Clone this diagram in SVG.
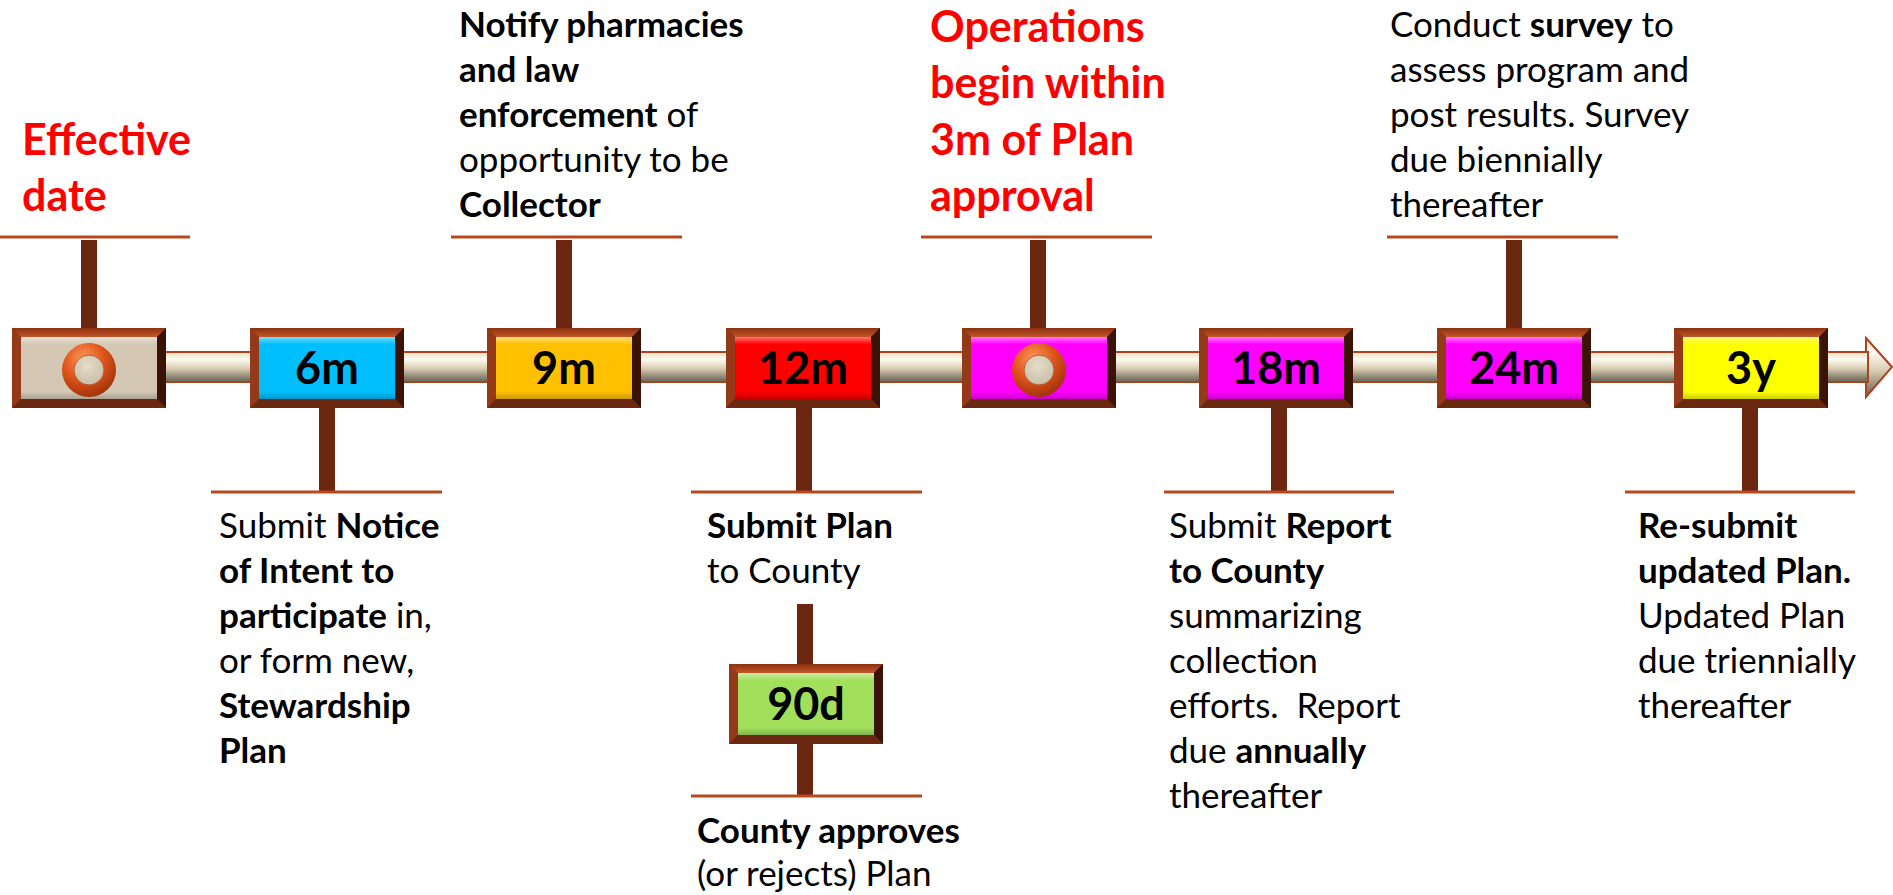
<svg xmlns="http://www.w3.org/2000/svg" xmlns:xlink="http://www.w3.org/1999/xlink" width="1893" height="895" viewBox="0 0 1893 895">
<style>
.t{font-family:Lato,"Noto Sans",sans-serif;font-size:35px;fill:#000}
.b{font-weight:bold}
.red{font-family:Lato,"Noto Sans",sans-serif;font-size:43px;font-weight:bold;fill:#ff0000}
.num{font-family:Lato,"Noto Sans",sans-serif;font-size:45px;font-weight:bold;fill:#000;text-anchor:middle}
.stem{fill:#6b2710}
.rule{stroke:#b9481f;stroke-width:3}
</style>
<defs>
<linearGradient id="bar" x1="0" y1="0" x2="0" y2="1">
<stop offset="0" stop-color="#e8dcc4"/>
<stop offset="0.25" stop-color="#fffbef"/>
<stop offset="0.55" stop-color="#d9ccb2"/>
<stop offset="0.85" stop-color="#8a8272"/>
<stop offset="1" stop-color="#6a6454"/>
</linearGradient>
<linearGradient id="ftop" x1="0" y1="0" x2="0" y2="1">
<stop offset="0" stop-color="#8c3010"/>
<stop offset="1" stop-color="#c2582a"/>
</linearGradient>
<linearGradient id="hl" x1="0" y1="0" x2="0" y2="1">
<stop offset="0" stop-color="#fff" stop-opacity="0.45"/>
<stop offset="0.12" stop-color="#fff" stop-opacity="0"/>
<stop offset="0.88" stop-color="#000" stop-opacity="0"/>
<stop offset="1" stop-color="#000" stop-opacity="0.2"/>
</linearGradient>
<radialGradient id="ring" cx="0.4" cy="0.3" r="0.75">
<stop offset="0" stop-color="#ff9a5a"/>
<stop offset="0.5" stop-color="#e0541c"/>
<stop offset="1" stop-color="#9a3008"/>
</radialGradient>
<radialGradient id="disc" cx="0.45" cy="0.35" r="0.7">
<stop offset="0" stop-color="#e6dcc8"/>
<stop offset="1" stop-color="#c8bca6"/>
</radialGradient>
<g id="frame">
<rect x="0" y="0" width="154" height="80" fill="#7a2c12"/>
<polygon points="0,0 154,0 145,9 9,9" fill="url(#ftop)"/>
<polygon points="0,0 9,9 9,71 0,80" fill="#953a18"/>
<polygon points="154,0 154,80 145,71 145,9" fill="#3a1206"/>
<polygon points="0,80 154,80 145,71 9,71" fill="#6a2810"/>
</g>
<g id="face"><rect x="9" y="9" width="136" height="62" fill="url(#hl)"/></g>
<g id="orn">
<circle r="27" fill="url(#ring)"/>
<circle r="15" fill="url(#disc)" stroke="#b85a30" stroke-width="1"/>
</g>
</defs>
<rect width="1893" height="895" fill="#fff"/>

<g id="connectors">
<rect x="160" y="352" width="1710" height="30" fill="url(#bar)" stroke="#a84420" stroke-width="2"/>
<polygon points="1866,338 1892,367 1866,397 1866,382 1868,382 1868,352 1866,352" fill="url(#bar)" stroke="#a84420" stroke-width="2"/>
<rect class="stem" x="81" y="240" width="16" height="88"/>
<line class="rule" x1="0" y1="237" x2="190" y2="237"/>
<rect class="stem" x="556" y="240" width="16" height="88"/>
<line class="rule" x1="451" y1="237" x2="682" y2="237"/>
<rect class="stem" x="1030" y="240" width="16" height="88"/>
<line class="rule" x1="921" y1="237" x2="1152" y2="237"/>
<rect class="stem" x="1506" y="240" width="16" height="88"/>
<line class="rule" x1="1387" y1="237" x2="1618" y2="237"/>
<rect class="stem" x="319" y="408" width="16" height="84"/>
<line class="rule" x1="211" y1="492" x2="442" y2="492"/>
<rect class="stem" x="796" y="408" width="16" height="84"/>
<line class="rule" x1="691" y1="492" x2="922" y2="492"/>
<rect class="stem" x="797" y="604" width="16" height="60"/>
<rect class="stem" x="797" y="744" width="16" height="52"/>
<line class="rule" x1="691" y1="796" x2="922" y2="796"/>
<rect class="stem" x="1271" y="408" width="16" height="84"/>
<line class="rule" x1="1164" y1="492" x2="1394" y2="492"/>
<rect class="stem" x="1742" y="408" width="16" height="84"/>
<line class="rule" x1="1625" y1="492" x2="1855" y2="492"/>
</g>

<g id="n0">
<use href="#frame" x="12" y="328"/>
<rect x="21" y="337" width="136" height="62" fill="#d4c8b4"/>
<use href="#face" x="12" y="328"/>
<use href="#orn" x="89" y="370"/>
<text class="red" x="22" y="155">Effective</text>
<text class="red" x="22" y="211">date</text>
</g>

<g id="n1">
<use href="#frame" x="250" y="328"/>
<rect x="259" y="337" width="136" height="62" fill="#00bfff"/>
<use href="#face" x="250" y="328"/>
<text class="num" x="327" y="384">6m</text>
<text class="t" x="219" y="538">Submit <tspan class="b">Notice</tspan></text>
<text class="t b" x="219" y="583">of Intent to</text>
<text class="t" x="219" y="628"><tspan class="b">participate</tspan> in,</text>
<text class="t" x="219" y="673">or form new,</text>
<text class="t b" x="219" y="718">Stewardship</text>
<text class="t b" x="219" y="763">Plan</text>
</g>

<g id="n2">
<use href="#frame" x="487" y="328"/>
<rect x="496" y="337" width="136" height="62" fill="#ffc000"/>
<use href="#face" x="487" y="328"/>
<text class="num" x="564" y="384">9m</text>
<text class="t b" x="459" y="37">Notify pharmacies</text>
<text class="t b" x="459" y="82">and law</text>
<text class="t" x="459" y="127"><tspan class="b">enforcement</tspan> of</text>
<text class="t" x="459" y="172">opportunity to be</text>
<text class="t b" x="459" y="217">Collector</text>
</g>

<g id="n3">
<use href="#frame" x="726" y="328"/>
<rect x="735" y="337" width="136" height="62" fill="#ff0000"/>
<use href="#face" x="726" y="328"/>
<text class="num" x="803" y="384">12m</text>
<text class="t b" x="707" y="538">Submit Plan</text>
<text class="t" x="707" y="583">to County</text>
</g>

<g id="n3b">
<use href="#frame" x="729" y="664"/>
<rect x="738" y="673" width="136" height="62" fill="#a2e05c"/>
<use href="#face" x="729" y="664"/>
<text class="num" x="806" y="720">90d</text>
<text class="t b" x="697" y="843">County approves</text>
<text class="t" x="697" y="886">(or rejects) Plan</text>
</g>

<g id="n4">
<use href="#frame" x="962" y="328"/>
<rect x="971" y="337" width="136" height="62" fill="#ff00ff"/>
<use href="#face" x="962" y="328"/>
<use href="#orn" x="1039" y="370"/>
<text class="red" x="930" y="42">Operations</text>
<text class="red" x="930" y="98">begin within</text>
<text class="red" x="930" y="155">3m of Plan</text>
<text class="red" x="930" y="211">approval</text>
</g>

<g id="n5">
<use href="#frame" x="1199" y="328"/>
<rect x="1208" y="337" width="136" height="62" fill="#ff00ff"/>
<use href="#face" x="1199" y="328"/>
<text class="num" x="1276" y="384">18m</text>
<text class="t" x="1169" y="538">Submit <tspan class="b">Report</tspan></text>
<text class="t b" x="1169" y="583">to County</text>
<text class="t" x="1169" y="628">summarizing</text>
<text class="t" x="1169" y="673">collection</text>
<text class="t" x="1169" y="718" xml:space="preserve">efforts.  Report</text>
<text class="t" x="1169" y="763">due <tspan class="b">annually</tspan></text>
<text class="t" x="1169" y="808">thereafter</text>
</g>

<g id="n6">
<use href="#frame" x="1437" y="328"/>
<rect x="1446" y="337" width="136" height="62" fill="#ff00ff"/>
<use href="#face" x="1437" y="328"/>
<text class="num" x="1514" y="384">24m</text>
<text class="t" x="1390" y="37">Conduct <tspan class="b">survey</tspan> to</text>
<text class="t" x="1390" y="82">assess program and</text>
<text class="t" x="1390" y="127">post results. Survey</text>
<text class="t" x="1390" y="172">due biennially</text>
<text class="t" x="1390" y="217">thereafter</text>
</g>

<g id="n7">
<use href="#frame" x="1674" y="328"/>
<rect x="1683" y="337" width="136" height="62" fill="#ffff00"/>
<use href="#face" x="1674" y="328"/>
<text class="num" x="1751" y="384">3y</text>
<text class="t b" x="1638" y="538">Re-submit</text>
<text class="t b" x="1638" y="583">updated Plan.</text>
<text class="t" x="1638" y="628">Updated Plan</text>
<text class="t" x="1638" y="673">due triennially</text>
<text class="t" x="1638" y="718">thereafter</text>
</g>
</svg>
